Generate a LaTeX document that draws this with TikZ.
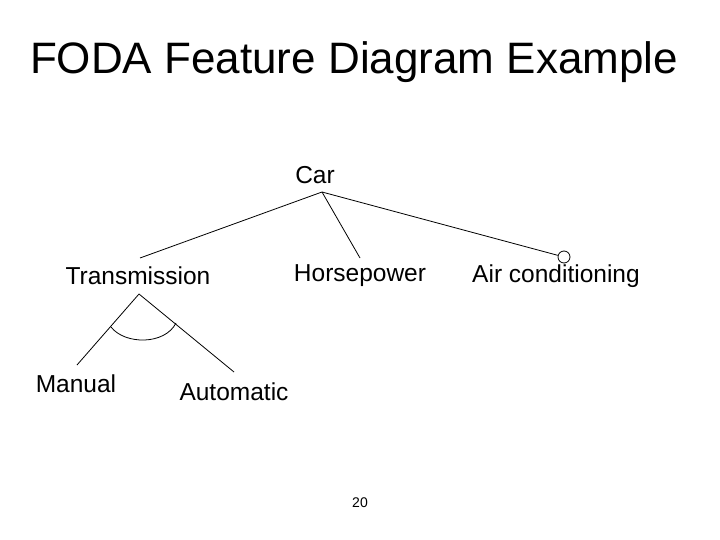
\documentclass[tikz,border=0pt]{standalone}
\usepackage{fontspec}
\setmainfont{Liberation Sans}
\begin{document}
\begin{tikzpicture}[x=1pt,y=-1pt,
  lbl/.style={inner sep=0pt,font=\fontsize{24.5}{28}\selectfont},
  edge/.style={line width=0.8pt}]
\useasboundingbox (0,0) rectangle (720,540);
\node[inner sep=0pt,font=\fontsize{44}{52}\selectfont] (title) at (354,62) {FODA Feature Diagram Example};
\node[lbl] (car) at (315,175) {Car};
\node[lbl] (tr) at (138,276) {Transmission};
\node[lbl] (hp) at (360,276) {Horsepower};
\node[lbl] (ac) at (556,276) {Air conditioning};
\node[lbl] (man) at (76,384) {Manual};
\node[lbl] (aut) at (234,392) {Automatic};
\node[inner sep=0pt,font=\fontsize{14}{16}\selectfont] (pg) at (360,503) {20};
\coordinate (c0) at (322,192);
\coordinate (t0) at (140,258);
\coordinate (h0) at (360,258);
\node[draw,circle,minimum size=12pt,inner sep=0pt,edge] (opt) at (564,257) {};
\draw[edge] (c0) -- (t0);
\draw[edge] (c0) -- (h0);
\draw[edge] (c0) -- (opt);
\coordinate (tp) at (139,294);
\coordinate (me) at (77,365);
\coordinate (ae) at (234,372);
\draw[edge] (tp) -- (me);
\draw[edge] (tp) -- (ae);
\coordinate (l1) at (111,327);
\coordinate (r1) at (176,323);
\draw[edge] (l1) .. controls (125,345) and (165,345) .. (r1);
\end{tikzpicture}
\end{document}
